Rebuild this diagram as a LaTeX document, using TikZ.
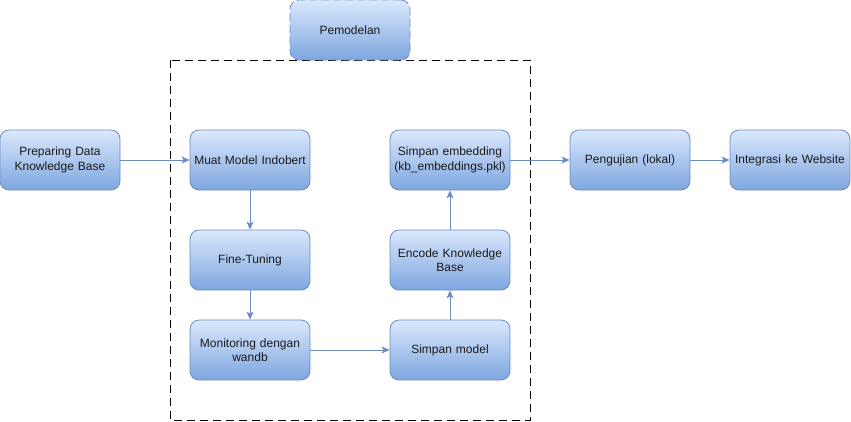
\documentclass[tikz,border=0pt]{standalone}
\usepackage{fontspec}
\setmainfont{Liberation Sans}
\usetikzlibrary{arrows.meta}
\definecolor{fillTop}{HTML}{DAE8FC}
\definecolor{fillBot}{HTML}{7EA6E0}
\definecolor{strokeC}{HTML}{6C8EBF}
\definecolor{txtC}{HTML}{1A1A1A}
\tikzset{
  box/.style={draw=strokeC, line width=0.8pt, rounded corners=9pt, top color=fillTop, bottom color=fillBot,
    minimum width=120pt, minimum height=60pt, inner sep=0pt, align=center, text width=116pt,
    font=\fontsize{12}{14.5}\selectfont, text=txtC},
  conn/.style={draw=strokeC, line width=0.8pt, -{Stealth[length=8pt, width=7pt, inset=2pt]}},
}
\begin{document}
\begin{tikzpicture}[x=1pt, y=-1pt]
\useasboundingbox (0,0) rectangle (851,421);
% dashed group
\draw[black, line width=1pt, dash pattern=on 8pt off 5pt] (170,60) rectangle (530,420);
% title box
\node[box, dashed, dash pattern=on 8pt off 4pt] (pem) at (350,30) {Pemodelan};
\node[box] (prep) at (60,160) {Preparing Data\\Knowledge Base};
\node[box] (muat) at (250,160) {Muat Model Indobert};
\node[box] (emb) at (450,160) {Simpan embedding\\(kb\_embeddings.pkl)};
\node[box] (uji) at (630,160) {Pengujian (lokal)};
\node[box] (web) at (790,160) {Integrasi ke Website};
\node[box] (fine) at (250,260) {Fine-Tuning};
\node[box] (enc) at (450,260) {Encode Knowledge\\Base};
\node[box] (mon) at (250,350) {Monitoring dengan\\wandb};
\node[box] (simp) at (450,350) {Simpan model};
\draw[conn] (prep) -- (muat);
\draw[conn] (muat) -- (fine);
\draw[conn] (fine) -- (mon);
\draw[conn] (mon) -- (simp);
\draw[conn] (simp) -- (enc);
\draw[conn] (enc) -- (emb);
\draw[conn] (emb) -- (uji);
\draw[conn] (uji) -- (web);
\end{tikzpicture}
\end{document}
